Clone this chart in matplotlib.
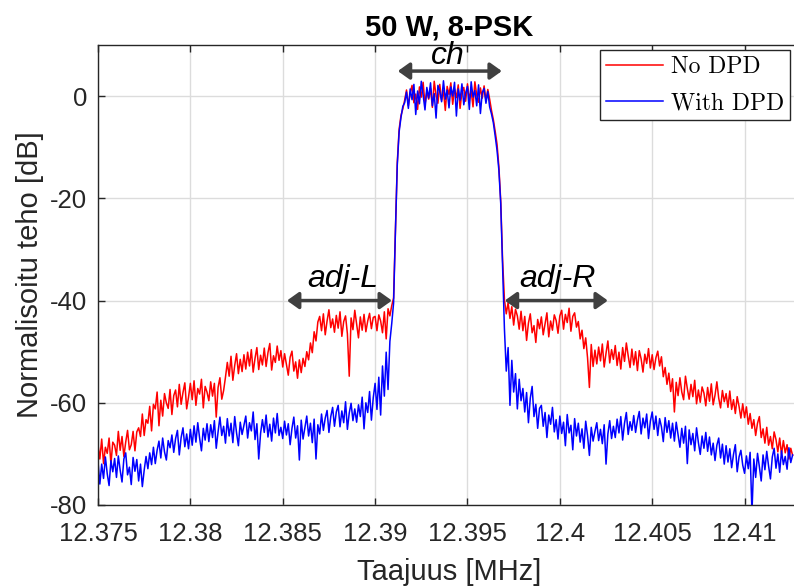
import matplotlib.pyplot as plt
import numpy as np

plt.rcParams['font.family'] = ['Liberation Sans', 'DejaVu Sans']

# spectrum, one value every 0.1 kHz from 12.375 MHz
no_dpd = [
    -68.2, -71.0, -67.1, -71.9, -68.7, -69.9, -66.9, -72.0, -67.7, -68.3,
    -70.3, -65.6, -69.3, -66.6, -70.5, -67.7, -65.4, -69.2, -68.2, -65.6,
    -69.4, -65.7, -64.9, -66.6, -62.2, -66.4, -63.3, -64.0, -60.7, -65.5,
    -60.3, -61.2, -57.9, -64.5, -59.5, -62.6, -58.2, -60.0, -61.1, -57.4,
    -62.3, -58.6, -57.5, -60.8, -56.4, -60.3, -58.0, -56.1, -61.2, -58.9,
    -56.2, -59.4, -55.7, -60.5, -57.2, -58.3, -55.4, -61.0, -56.8, -57.9,
    -59.6, -55.9, -58.7, -56.2, -62.8, -57.0, -55.1, -59.3, -57.6, -55.0,
    -52.1, -54.8, -50.9, -55.6, -52.7, -50.4, -54.3, -51.5, -53.9, -50.6,
    -53.4, -50.1, -52.8, -49.6, -54.0, -51.3, -49.2, -53.5, -50.7, -52.6,
    -49.3, -52.9, -50.2, -48.4, -53.6, -50.8, -52.1, -48.9, -51.7, -49.8,
    -53.0, -50.4, -52.5, -54.6, -51.1, -49.9, -53.8, -52.0, -55.2, -51.6,
    -54.1, -51.3, -52.9, -50.0, -51.6, -48.3, -50.2, -46.1, -47.9, -44.2,
    -43.1, -45.9, -42.6, -46.7, -44.0, -41.8, -45.3, -43.6, -46.2, -42.9,
    -45.4, -42.2, -47.0, -44.1, -43.0, -46.5, -54.8, -43.4, -45.7, -41.9,
    -44.6, -47.3, -43.2, -45.8, -42.7, -46.1, -44.0, -42.5, -45.5, -43.3,
    -43.1, -45.9, -42.8, -44.0, -46.3, -42.2, -47.5, -41.6, -43.0, -41.0,
    -39.5, -26.0, -13.0, -6.5, -3.8, -2.5, -0.8, 1.2, -1.9, 0.6,
    2.1, -1.3, 0.4, -2.6, 1.8, -0.2, 2.7, -1.7, 0.9, -0.6,
    1.5, -2.2, 2.9, 0.1, -1.4, 2.3, -0.8, 1.1, -2.8, 1.9,
    0.3, 2.6, -1.6, 1.4, -0.3, 2.2, -2.4, 0.8, 1.7, -1.0,
    2.4, -0.5, 1.0, -2.1, 2.8, 0.2, -1.2, 1.6, -0.4, 2.0,
    -0.9, 1.3, -0.6, -2.8, -4.6, -6.9, -9.4, -13.8, -20.5, -32.0,
    -39.8, -42.6, -40.4, -43.5, -41.2, -44.8, -41.7, -43.0, -45.6, -42.1,
    -45.9, -43.1, -47.8, -44.4, -42.6, -46.3, -44.9, -48.2, -43.7, -45.5,
    -43.2, -46.7, -44.5, -42.4, -47.1, -44.0, -45.8, -42.8, -43.9, -46.4,
    -43.0, -41.9, -45.6, -42.7, -44.3, -41.5, -46.0, -43.1, -42.4, -45.2,
    -44.1, -47.5, -45.8, -49.4, -47.3, -51.2, -57.0, -48.6, -52.9, -49.7,
    -52.4, -49.1, -51.8, -48.5, -53.0, -50.3, -47.9, -52.2, -49.6, -51.5,
    -48.8, -52.7, -50.1, -53.4, -49.2, -51.9, -48.3, -50.8, -53.1, -49.5,
    -52.6, -50.0, -53.7, -49.8, -51.4, -54.0, -50.5, -52.3, -49.4, -53.2,
    -50.6, -53.5, -51.2, -49.9, -52.8, -51.0, -54.9, -53.1, -56.4, -54.2,
    -57.8, -55.3, -61.8, -56.0, -58.6, -55.1, -57.9, -59.4, -54.8, -57.2,
    -59.3, -56.4, -58.8, -55.6, -60.2, -57.5, -59.9, -56.9, -58.1, -60.6,
    -57.0, -59.7, -56.3, -60.4, -58.5, -55.9, -59.1, -61.0, -57.6, -59.8,
    -58.2, -60.9, -57.7, -61.3, -59.4, -62.1, -58.8, -60.7, -63.0, -60.2,
    -62.9, -60.8, -64.2, -62.1, -65.0, -63.3, -66.4, -64.0, -62.7, -66.8,
    -65.1, -67.9, -64.8, -68.3, -66.6, -69.0, -65.7, -67.2, -69.6, -66.9,
    -70.1, -67.4, -69.8, -68.2, -71.0, -68.9, -70.3,
]

with_dpd = [
    -71.5, -75.9, -72.0, -74.8, -70.6, -73.9, -76.2, -71.3, -73.5, -70.9,
    -74.6, -70.4, -73.2, -75.5, -71.0, -69.8, -74.1, -72.6, -76.0, -70.7,
    -73.4, -71.1, -75.3, -72.0, -76.4, -73.2, -70.5, -72.9, -69.8, -72.1,
    -68.7, -71.9, -69.3, -67.5, -70.8, -66.9, -69.6, -71.2, -67.4, -68.8,
    -66.3, -69.7, -67.0, -65.4, -70.2, -66.8, -64.9, -68.6, -66.1, -69.0,
    -65.2, -68.3, -64.5, -67.7, -63.9, -66.9, -69.4, -65.0, -67.3, -64.1,
    -67.6, -64.3, -66.8, -63.5, -68.9, -65.7, -62.8, -66.4, -64.6, -67.9,
    -63.1, -66.5, -64.0, -67.8, -62.7, -65.9, -68.4, -63.8, -66.2, -64.4,
    -62.6, -66.9, -63.9, -65.5, -61.8, -67.2, -64.1, -71.0, -66.0, -63.3,
    -65.8, -62.4, -66.7, -64.2, -67.5, -63.0, -65.9, -62.1, -66.4, -64.8,
    -67.0, -63.6, -66.3, -64.1, -68.2, -65.0, -62.8, -66.9, -64.5, -71.2,
    -63.4, -67.1, -64.9, -62.6, -66.5, -64.0, -67.8, -63.2, -71.0, -64.3,
    -66.1, -62.2, -65.4, -63.0, -61.5, -65.8, -62.7, -60.9, -64.6, -61.8,
    -60.5, -64.7, -61.6, -63.9, -59.8, -65.2, -62.0, -60.1, -63.5, -61.2,
    -63.8, -60.4, -62.7, -58.9, -65.1, -60.0, -61.9, -57.8, -63.4, -59.0,
    -56.2, -61.3, -55.0, -62.4, -52.8, -58.7, -50.1, -57.4, -48.0, -44.5,
    -40.5, -26.5, -13.5, -7.0, -4.2, -2.0, -1.3, 0.8, -2.4, 1.4,
    -0.7, 2.3, -3.6, 1.0, -1.5, 2.9, 0.2, -2.7, 1.7, -0.4,
    2.6, -1.9, 0.5, -4.3, 2.1, 0.9, -1.1, 3.0, -0.6, 1.2,
    -2.3, 1.8, 0.0, 2.7, -3.9, 1.4, -0.8, 2.4, -1.7, 0.6,
    1.9, -2.6, 2.8, -0.2, 1.1, -1.9, 2.2, -3.4, 0.7, 1.5,
    -1.4, 0.9, -2.1, -3.5, -5.2, -7.8, -10.6, -14.5, -21.0, -33.0,
    -45.5, -53.8, -49.2, -60.5, -51.7, -57.9, -54.3, -61.2, -55.4, -59.6,
    -57.2, -61.8, -58.0, -63.9, -59.1, -56.8, -62.7, -60.3, -65.0, -61.1,
    -60.5, -64.6, -61.9, -66.8, -62.4, -64.2, -60.9, -65.7, -63.3, -67.1,
    -62.6, -66.0, -63.8, -68.4, -62.3, -65.9, -64.4, -69.2, -63.1, -66.5,
    -64.0, -67.7, -65.1, -68.9, -63.6, -66.4, -70.3, -64.8, -67.5, -65.6,
    -63.9, -67.4, -65.2, -68.0, -64.3, -72.0, -66.1, -63.5, -67.0, -64.6,
    -66.8, -63.2, -65.9, -62.7, -67.3, -64.0, -61.9, -66.2, -63.7, -65.4,
    -62.5, -65.8, -63.4, -61.7, -66.1, -63.0, -64.9, -62.2, -67.0, -63.6,
    -61.8, -65.2, -62.6, -66.4, -63.1, -64.7, -67.6, -62.9, -65.8, -63.5,
    -66.9, -64.0, -67.5, -63.8, -66.2, -68.7, -65.0, -67.9, -64.6, -71.9,
    -65.3, -68.2, -66.0, -69.4, -64.9, -67.8, -70.1, -66.5, -68.9, -65.8,
    -69.5, -66.7, -70.2, -67.9, -71.3, -68.3, -66.9, -70.8, -68.1, -72.0,
    -68.4, -71.6, -69.0, -72.7, -70.1, -68.2, -73.5, -70.6, -69.3, -72.2,
    -73.8, -70.4, -72.9, -69.7, -81.5, -71.0, -74.6, -69.9, -72.5, -75.3,
    -70.2, -73.1, -69.5, -72.4, -74.9, -70.6, -68.9, -72.8, -70.0, -73.6,
    -69.4, -72.1, -70.5, -73.0, -68.8, -71.7, -70.2,
]

freq = np.linspace(12.375, 12.4126, len(no_dpd))

xtick_vals = [12.375, 12.38, 12.385, 12.39, 12.395, 12.4, 12.405, 12.41]
xtick_labels = ['12.375', '12.38', '12.385', '12.39', '12.395', '12.4', '12.405', '12.41']
ytick_vals = [-80, -60, -40, -20, 0]
ytick_labels = ['-80', '-60', '-40', '-20', '0']

fig = plt.figure(figsize=(7.94, 5.86), dpi=100)
ax = fig.add_axes([98 / 794, 81 / 586, 702 / 794, 460 / 586])

ax.plot(freq, no_dpd, color='#ff0000', lw=1.1, label='No DPD')
ax.plot(freq, with_dpd, color='#0000ff', lw=1.1, label='With DPD')

ax.set_xlim(12.375, 12.413)
ax.set_ylim(-80, 10)
ax.set_xticks(xtick_vals)
ax.set_xticklabels(xtick_labels)
ax.set_yticks(ytick_vals)
ax.set_yticklabels(ytick_labels)

ax.grid(True, color='#dcdcdc', lw=1)
ax.set_axisbelow(True)
for s in ax.spines.values():
    s.set_color('#262626')
    s.set_linewidth(1)
ax.spines['right'].set_visible(False)
ax.tick_params(direction='in', length=5, width=1, color='#262626',
               labelsize=18.5, labelcolor='#262626', top=True)
ax.tick_params(axis='x', pad=12)
ax.tick_params(axis='y', pad=8)

ax.set_xlabel('Taajuus [MHz]', fontsize=21, color='#262626', labelpad=9)
ax.set_ylabel('Normalisoitu teho [dB]', fontsize=21, color='#262626', labelpad=4)
ax.set_title('50 W, 8-PSK', fontsize=21, fontweight='bold', pad=7)

# bandwidth markers
arrow = dict(arrowstyle='<|-|>,head_length=0.35,head_width=0.25', lw=2.5,
             color='#404040', mutation_scale=20, shrinkA=0, shrinkB=0)
ax.annotate('', xy=(12.39123, 4.9), xytext=(12.39686, 4.9), arrowprops=arrow)
ax.annotate('', xy=(12.38523, -40), xytext=(12.39091, -40), arrowprops=arrow)
ax.annotate('', xy=(12.39702, -40), xytext=(12.4026, -40), arrowprops=arrow)
ax.text(12.39394, 6.3, 'ch', ha='center', va='baseline', fontsize=23, style='italic')
ax.text(12.38823, -37.4, 'adj-L', ha='center', va='baseline', fontsize=23, style='italic')
ax.text(12.39986, -37.4, 'adj-R', ha='center', va='baseline', fontsize=23, style='italic')

leg = ax.legend(loc='upper right', bbox_to_anchor=(0.9858, 0.9891), borderaxespad=0,
                prop={'family': 'cmr10', 'size': 17}, fancybox=False, framealpha=1,
                edgecolor='#262626', handlelength=2.4, handletextpad=0.35,
                labelspacing=0.6, borderpad=0.25)
leg.get_frame().set_linewidth(1)

fig.savefig('out.png', dpi=100)
